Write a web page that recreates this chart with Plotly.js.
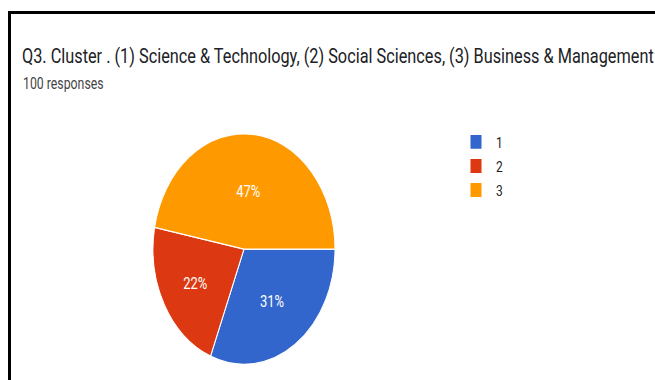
<!DOCTYPE html>
<html>
<head>
<meta charset="utf-8">
<script src="https://cdn.plot.ly/plotly-3.0.1.min.js"></script>
<style>
  html, body { margin: 0; padding: 0; background: #fff; overflow: hidden; }
  body { width: 655px; height: 380px; position: relative; }
  #chart { position: absolute; left: 0; top: 0; width: 655px; height: 300px;
           transform: scaleY(1.2667); transform-origin: 0 0; }
  #frame { position: absolute; left: 8px; top: 11px; width: 700px; height: 400px;
           border-left: 3px solid #000; border-top: 3px solid #000; pointer-events: none; z-index: 5; }
</style>
</head>
<body>
<div id="chart"></div>
<div id="frame"></div>
<script>
const titleText = "Q3. Cluster . (1) Science &amp; Technology, (2) Social Sciences, (3) Business &amp; Management";
const subtitleText = "100 responses";
const categories = ["1", "2", "3"];
const values = [31, 22, 47];
const colors = ["#3366CC", "#DC3912", "#FF9900"];

const W = 655, H = 300;
const trace = {
  type: "pie",
  labels: categories,
  values: values,
  sort: false,
  direction: "clockwise",
  rotation: 90,
  marker: { colors: colors, line: { color: "#ffffff", width: 1 } },
  textinfo: "percent",
  texttemplate: "%{percent:.0%}",
  textposition: "inside",
  insidetextorientation: "horizontal",
  textfont: { family: "Roboto, Arial, sans-serif", size: 13, color: "#ffffff" },
  hoverinfo: "label+percent",
  domain: { x: [(244 - 91) / W, (244 + 91) / W], y: [1 - (196.6 + 91) / H, 1 - (196.6 - 91) / H] }
};

const layout = {
  width: W, height: H,
  margin: { l: 0, r: 0, t: 0, b: 0 },
  paper_bgcolor: "#ffffff",
  showlegend: true,
  legend: {
    x: 456 / W, xanchor: "left", y: 1 - 97.5 / H, yanchor: "top",
    font: { family: "Roboto, Arial, sans-serif", size: 12, color: "#222222" },
    traceorder: "normal", itemwidth: 30, tracegroupgap: 0, bgcolor: "rgba(0,0,0,0)"
  },
  title: {
    text: titleText,
    font: { family: "Roboto, Arial, sans-serif", size: 16.3, color: "#202124" },
    xref: "container", x: 22 / W, xanchor: "left",
    yref: "container", y: 1 - 50 / H, yanchor: "bottom"
  },
  annotations: [{
    text: subtitleText, xref: "paper", yref: "paper",
    x: 21 / W, xanchor: "left", y: 1 - 75 / H, yanchor: "bottom",
    showarrow: false,
    font: { family: "Roboto, Arial, sans-serif", size: 12.3, color: "#444444" }
  }]
};

Plotly.newPlot("chart", [trace], layout, { displayModeBar: false, staticPlot: true });
</script>
</body>
</html>
